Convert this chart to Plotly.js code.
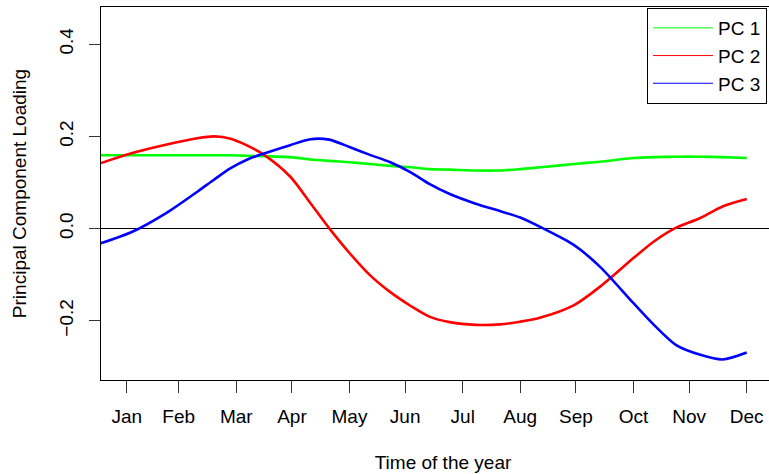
<!DOCTYPE html>
<html>
<head>
<meta charset="utf-8">
<script src="https://cdn.plot.ly/plotly-3.0.1.min.js"></script>
<style>
html, body { margin: 0; padding: 0; overflow: hidden; background: #fff; }
#chart { width: 800px; height: 474px; }
</style>
</head>
<body>
<div id="chart"></div>
<script>
// Day of the year at which each curve was sampled
const days = [17, 34, 52, 69, 78, 87, 96, 105, 119, 130, 140, 151, 162, 173, 184, 194, 205, 219, 232, 243, 254, 272, 286, 304, 315, 327, 340, 352, 365];

// Principal component loadings
const pc1 = [0.159, 0.159, 0.159, 0.159, 0.159, 0.159, 0.158, 0.157, 0.155, 0.150, 0.147, 0.144, 0.140, 0.136, 0.133, 0.129, 0.128, 0.126, 0.126, 0.129, 0.133, 0.140, 0.145, 0.153, 0.155, 0.156, 0.156, 0.155, 0.153];
const pc2 = [0.142, 0.164, 0.182, 0.196, 0.200, 0.195, 0.180, 0.160, 0.113, 0.055, 0.001, -0.053, -0.101, -0.138, -0.168, -0.191, -0.203, -0.209, -0.208, -0.202, -0.193, -0.166, -0.126, -0.064, -0.028, 0.002, 0.023, 0.048, 0.064];
const pc3 = [-0.032, -0.007, 0.033, 0.080, 0.106, 0.131, 0.150, 0.163, 0.181, 0.194, 0.193, 0.177, 0.160, 0.144, 0.122, 0.097, 0.075, 0.054, 0.038, 0.024, 0.003, -0.036, -0.083, -0.162, -0.209, -0.253, -0.274, -0.284, -0.269];

// Axis ticks
const monthTickDays = [31, 59, 90, 120, 151, 181, 212, 243, 273, 304, 334, 365];
const monthLabels = ["Jan", "Feb", "Mar", "Apr", "May", "Jun", "Jul", "Aug", "Sep", "Oct", "Nov", "Dec"];
const yTickVals = [-0.2, 0.0, 0.2, 0.4];
const yTickText = ["\u22120.2", "0.0", "0.2", "0.4"];

const seriesNames = ["PC 1", "PC 2", "PC 3"];
const seriesColors = ["#00ff00", "#ff0000", "#0000ff"];
const seriesValues = [pc1, pc2, pc3];

const FONT = '"Liberation Sans", Arial, Helvetica, sans-serif';

const traces = [];
seriesValues.forEach((vals, i) => {
  traces.push({
    x: days, y: vals, type: 'scatter', mode: 'lines',
    line: { color: seriesColors[i], width: 2.6, shape: 'spline', smoothing: 0.8 },
    showlegend: false, hoverinfo: 'skip'
  });
});
// legend entries (thin lines like the original legend)
seriesValues.forEach((vals, i) => {
  traces.push({
    x: [null], y: [null], type: 'scatter', mode: 'lines',
    name: seriesNames[i],
    line: { color: seriesColors[i], width: 1 },
    showlegend: true, hoverinfo: 'skip'
  });
});

const layout = {
  width: 800, height: 474,
  margin: { l: 101, r: 15, t: 7, b: 94, pad: 0 },
  paper_bgcolor: '#fff', plot_bgcolor: '#fff',
  font: { family: FONT, size: 19, color: '#000' },
  showlegend: true,
  legend: {
    x: 0.7982, y: 0.9973, xanchor: 'left', yanchor: 'top',
    bordercolor: '#000', borderwidth: 1, bgcolor: '#fff',
    font: { family: FONT, size: 19, color: '#000' },
    itemwidth: 60, tracegroupgap: 0
  },
  xaxis: {
    range: [17.13, 385.62], autorange: false,
    tickmode: 'array', tickvals: monthTickDays, ticktext: monthLabels,
    ticks: 'outside', ticklen: 12, tickcolor: '#333', tickwidth: 1,
    showline: true, linecolor: '#000', linewidth: 1, mirror: true,
    showgrid: false, zeroline: false,
    tickfont: { family: FONT, size: 19, color: '#000' },
    ticklabelstandoff: 7,
    title: { text: 'Time of the year', font: { family: FONT, size: 19, color: '#000' }, standoff: 29 }
  },
  yaxis: {
    range: [-0.3286, 0.4808], autorange: false,
    tickmode: 'array', tickvals: yTickVals, ticktext: yTickText,
    ticks: 'outside', ticklen: 11, tickcolor: '#333', tickwidth: 1,
    tickangle: -90,
    showline: true, linecolor: '#000', linewidth: 1, mirror: true,
    showgrid: false,
    zeroline: true, zerolinecolor: '#000', zerolinewidth: 1,
    tickfont: { family: FONT, size: 19, color: '#000' },
    ticklabelstandoff: 8,
    title: { text: 'Principal Component Loading', font: { family: FONT, size: 19, color: '#000' }, standoff: 24 }
  }
};

Plotly.newPlot('chart', traces, layout, { displayModeBar: false, staticPlot: true });
</script>
</body>
</html>
